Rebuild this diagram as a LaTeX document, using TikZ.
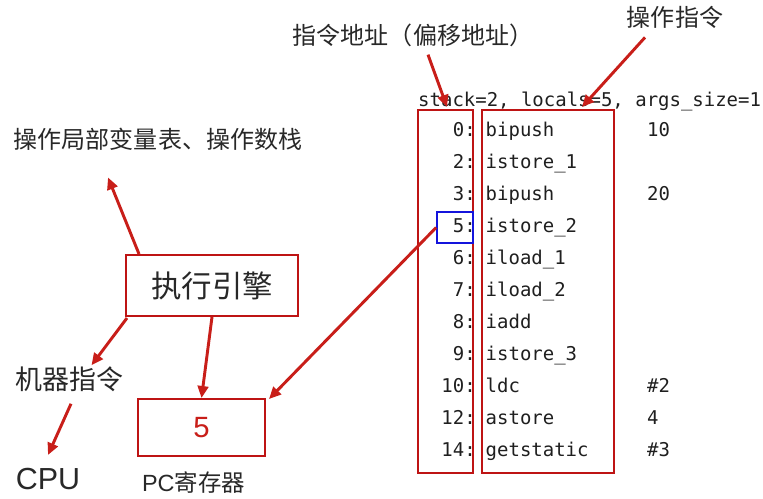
\documentclass[tikz,border=0pt]{standalone}
\usepackage{fontspec}
\setmainfont{Liberation Sans}
\setmonofont{DejaVu Sans Mono}
\newfontfamily\cjkfont{Noto Sans CJK SC}
\usetikzlibrary{arrows.meta}

\definecolor{arrowred}{RGB}{200,30,25}
\definecolor{boxred}{RGB}{190,20,20}
\definecolor{labelgray}{RGB}{40,40,40}
\definecolor{boxblue}{RGB}{20,20,220}

\tikzset{
  redbox/.style={draw=boxred, line width=1.7pt},
  bluebox/.style={draw=boxblue, line width=1.5pt},
  arr/.style={draw=arrowred, line width=2.5pt, -{Triangle[length=0.36cm, width=0.32cm]}},
  cjklabel/.style={font=\cjkfont\fontsize{20.5pt}{24pt}\selectfont, text=labelgray, inner sep=0pt},
  code/.style={font=\ttfamily\fontsize{16.2pt}{19pt}\selectfont, text=black!88, inner sep=0pt},
}

\begin{document}
\begin{tikzpicture}[x=0.03cm, y=-0.03cm]
    \useasboundingbox (0,0) rectangle (763,498);

    % labels
    \node (addrlbl) [cjklabel] at (413,35) {指令地址（偏移地址）};
    \node (oplbl) [cjklabel] at (675,17) {操作指令};
    \node (stacklbl) [cjklabel] at (158,139) {操作局部变量表、操作数栈};
    \node (mi) [cjklabel, font=\cjkfont\fontsize{23pt}{27pt}\selectfont] at (69.5,379) {机器指令};
    \node (cpu) [inner sep=0pt, text=labelgray, font=\fontsize{26pt}{30pt}\selectfont] at (48,479) {CPU};
    \node (pclbl) [inner sep=0pt, text=labelgray, font=\fontsize{20pt}{24pt}\selectfont] at (193.5,483) {PC{\cjkfont 寄存器}};

    % engine and pc register
    \node (engine) [redbox, minimum width=5.16cm, minimum height=1.83cm, text=labelgray,
        font=\cjkfont\fontsize{26pt}{30pt}\selectfont] at (212,285.5) {执行引擎};
    \node (pc) [redbox, minimum width=3.81cm, minimum height=1.71cm, text=arrowred,
        font=\fontsize{25pt}{30pt}\selectfont] at (201.5,427.5) {5};

    % bytecode listing
    \node (header) [code, anchor=base west] at (418,106) {stack=2, locals=5, args\_size=1};
    \foreach \addr/\op/\arg [count=\i from 0] in {0/bipush/10, 2/istore\_1/{}, 3/bipush/20,
        5/istore\_2/{}, 6/iload\_1/{}, 7/iload\_2/{}, 8/iadd/{}, 9/istore\_3/{},
        10/ldc/\#2, 12/astore/4, 14/getstatic/\#3}
    {
        \node (addr\i) [code, anchor=base east] at (476,136.7+32*\i) {\addr:};
        \node (op\i) [code, anchor=base west] at (485.5,136.7+32*\i) {\op};
        \node (arg\i) [code, anchor=base west] at (647,136.7+32*\i) {\arg};
    }
    \node (addrbox) [redbox, minimum width=1.65cm, minimum height=10.89cm] at (445.5,291.5) {};
    \node (opbox) [redbox, minimum width=3.96cm, minimum height=10.89cm] at (548,291.5) {};
    \node (pcmark) [bluebox, minimum width=1.08cm, minimum height=0.93cm] at (455,227.5) {};

    % arrows
    \draw[arr] ([shift={(15,8)}]addrlbl.south) -- ([shift={(1.5,-2)}]addrbox.north);
    \draw[arr] ([shift={(-30,9)}]oplbl.south) -- ([shift={(34,-2)}]opbox.north);
    \draw[arr] ([shift={(14,0)}]engine.north west) -- ([shift={(-50,27)}]stacklbl.south);
    \draw[arr] ([shift={(2,1)}]engine.south west) -- ([shift={(22,-1)}]mi.north);
    \draw[arr] ([shift={(1.5,12)}]mi.south) -- ([shift={(0,-13)}]cpu.north);
    \draw[arr] (engine.south) -- (pc.north);
    \draw[arr] (pcmark.west) -- ([shift={(3,1)}]pc.north east);
\end{tikzpicture}
\end{document}
